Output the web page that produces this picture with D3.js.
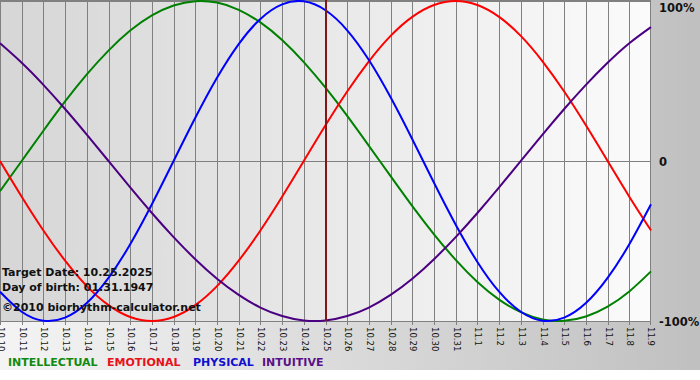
<!DOCTYPE html>
<html>
<head>
<meta charset="utf-8">
<script src="https://cdn.jsdelivr.net/npm/d3@7"></script>
<style>
  html, body { margin: 0; padding: 0; background: #ffffff; }
  svg { display: block; }
</style>
</head>
<body>
<script>
// ---- data (one per day) ----
const days = ["10.10","10.11","10.12","10.13","10.14","10.15","10.16","10.17","10.18","10.19",
  "10.20","10.21","10.22","10.23","10.24","10.25","10.26","10.27","10.28","10.29","10.30","10.31",
  "11.1","11.2","11.3","11.4","11.5","11.6","11.7","11.8","11.9"];

const intellectual = [-0.189, 0.000, 0.189, 0.372, 0.541, 0.690, 0.815, 0.910, 0.972, 0.999, 0.990,
  0.945, 0.866, 0.756, 0.618, 0.458, 0.282, 0.095, -0.095, -0.282, -0.458, -0.618, -0.756, -0.866, -0.945,
  -0.990, -0.999, -0.972, -0.910, -0.815, -0.690];

const emotional = [0.000, -0.223, -0.434, -0.623, -0.782, -0.901, -0.975, -1.000, -0.975, -0.901, -0.782,
  -0.623, -0.434, -0.223, 0.000, 0.223, 0.434, 0.623, 0.782, 0.901, 0.975, 1.000, 0.975, 0.901, 0.782,
  0.623, 0.434, 0.223, 0.000, -0.223, -0.434];

const physical = [-0.817, -0.942, -0.998, -0.979, -0.888, -0.731, -0.520, -0.270, 0.000, 0.270, 0.520,
  0.731, 0.888, 0.979, 0.998, 0.942, 0.817, 0.631, 0.398, 0.136, -0.136, -0.398, -0.631, -0.817, -0.942,
  -0.998, -0.979, -0.888, -0.731, -0.520, -0.270];

const intuitive = [0.736, 0.614, 0.476, 0.325, 0.165, 0.000, -0.165, -0.325, -0.476, -0.614, -0.736,
  -0.837, -0.916, -0.969, -0.997, -0.997, -0.969, -0.916, -0.837, -0.736, -0.614, -0.476, -0.325, -0.165,
  0.000, 0.165, 0.325, 0.476, 0.614, 0.736, 0.837];

const seriesNames = ["INTELLECTUAL", "EMOTIONAL", "PHYSICAL", "INTUITIVE"];
const yTickValues = [1, 0, -1];
const yTickLabels = ["100%", "0", "-100%"];
const targetDay = "10.25";
const infoLines = ["Target Date: 10.25.2025", "Day of birth: 01.31.1947", "\u00A92010 biorhythm-calculator.net"];

// ---- layout ----
const W = 700, H = 380;
const plot = { left: 0, top: 0, right: 651, bottom: 321 };
const lineColors = ["#008000", "#ff0000", "#0000ff", "#4b0082"];
const legendColors = ["#108a10", "#e8101a", "#1010d0", "#5a1088"];

const svg = d3.select("body").append("svg").attr("width", W).attr("height", H);
const defs = svg.append("defs");

const bgGrad = defs.append("linearGradient").attr("id", "bgGrad").attr("x1", "0").attr("x2", "1").attr("y1", "0").attr("y2", "0");
bgGrad.append("stop").attr("offset", "0").attr("stop-color", "#f4f4f4");
bgGrad.append("stop").attr("offset", "1").attr("stop-color", "#c0c0c0");

const plotGrad = defs.append("linearGradient").attr("id", "plotGrad").attr("x1", "0").attr("x2", "1").attr("y1", "0").attr("y2", "0");
plotGrad.append("stop").attr("offset", "0").attr("stop-color", "#d6d6d6");
plotGrad.append("stop").attr("offset", "1").attr("stop-color", "#fbfbfb");

svg.append("rect").attr("x", 0).attr("y", 0).attr("width", W).attr("height", 370).attr("fill", "url(#bgGrad)");
svg.append("rect").attr("x", plot.left).attr("y", plot.top)
  .attr("width", plot.right - plot.left).attr("height", plot.bottom - plot.top)
  .attr("fill", "url(#plotGrad)");

const x = d3.scalePoint().domain(days).range([plot.left, plot.right]);
const y = d3.scaleLinear().domain([-1, 1]).range([plot.bottom, plot.top + 1]);
const crisp = v => Math.round(v) + 0.5;

// vertical grid
svg.append("g").selectAll("line").data(days).join("line")
  .attr("x1", d => crisp(Math.min(x(d), plot.right - 1))).attr("x2", d => crisp(Math.min(x(d), plot.right - 1)))
  .attr("y1", plot.top).attr("y2", plot.bottom + 4)
  .attr("stroke", "#808080").attr("stroke-width", 1);

// horizontal lines: top, zero, bottom
svg.append("g").selectAll("line").data(yTickValues).join("line")
  .attr("x1", plot.left).attr("x2", plot.right)
  .attr("y1", d => crisp(Math.min(y(d), plot.bottom))).attr("y2", d => crisp(Math.min(y(d), plot.bottom)))
  .attr("stroke", "#808080").attr("stroke-width", 1);
svg.append("line").attr("x1", plot.left).attr("x2", plot.right).attr("y1", 0.5).attr("y2", 0.5)
  .attr("stroke", "#808080");

// x tick labels
svg.append("g").selectAll("text").data(days).join("text")
  .attr("transform", d => `translate(${Math.min(x(d), plot.right - 1) + 0.5},${plot.bottom + 6}) rotate(90)`)
  .attr("dominant-baseline", "middle")
  .attr("font-family", "DejaVu Sans, Verdana, sans-serif")
  .attr("font-size", 8.5)
  .attr("fill", "#111")
  .text(d => d);

// y labels on the right
svg.append("g").selectAll("text").data(yTickValues).join("text")
  .attr("x", 659)
  .attr("y", (d, i) => [12, 166, 326][i])
  .attr("font-family", "DejaVu Sans, Verdana, sans-serif")
  .attr("font-weight", "bold")
  .attr("font-size", 11.5)
  .attr("fill", "#111")
  .text((d, i) => yTickLabels[i]);

// series
const series = [intellectual, emotional, physical, intuitive];
const line = d3.line().x((d, i) => x(days[i])).y(d => y(d)).curve(d3.curveNatural);
svg.append("g").selectAll("path").data(series).join("path")
  .attr("d", d => line(d))
  .attr("fill", "none")
  .attr("stroke", (d, i) => lineColors[i])
  .attr("stroke-width", 2)
  .attr("stroke-linejoin", "round");

// target date line
svg.append("line")
  .attr("x1", x(targetDay) + 0.5).attr("x2", x(targetDay) + 0.5)
  .attr("y1", plot.top).attr("y2", plot.bottom)
  .attr("stroke", "#801818").attr("stroke-width", 2);

// info text
svg.append("g").selectAll("text").data(infoLines).join("text")
  .attr("x", 2)
  .attr("y", (d, i) => [276, 291, 311][i])
  .attr("font-family", "DejaVu Sans, Verdana, sans-serif")
  .attr("font-weight", "bold")
  .attr("font-size", 11)
  .attr("fill", "#111")
  .text(d => d);

// legend
const legendX = [8, 107, 193, 262];
svg.append("g").selectAll("text").data(seriesNames).join("text")
  .attr("x", (d, i) => legendX[i])
  .attr("y", 366)
  .attr("font-family", "DejaVu Sans, Verdana, sans-serif")
  .attr("font-weight", "bold")
  .attr("font-size", 11)
  .attr("fill", (d, i) => legendColors[i])
  .text(d => d);
</script>
</body>
</html>
